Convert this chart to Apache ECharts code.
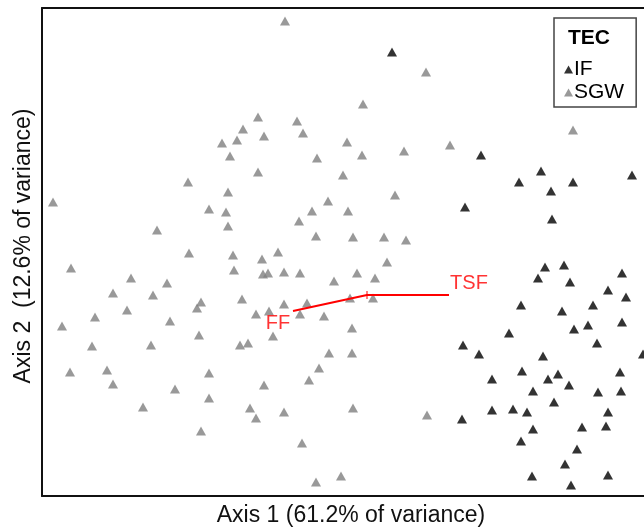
<!DOCTYPE html>
<html>
<head>
<meta charset="utf-8">
<script src="https://cdn.jsdelivr.net/npm/echarts@6/dist/echarts.min.js"></script>
<style>
html,body{margin:0;padding:0;background:#fff;}
#chart{width:644px;height:529px;}
</style>
</head>
<body>
<div id="chart"></div>
<script>
// Ordination scores (arbitrary axis units)
var sgwPoints = [
  [243,475],[216,379],[255,375],[261,363],[201,367],[222,360],[195,356],[180,353],
  [188,340],[275,338],[216,324],[146,314],[186,304],[11,294],[167,287],[184,284],
  [270,285],[286,295],[257,275],[186,270],[115,266],[274,260],[147,243],[191,241],
  [236,244],[220,237],
  [321,392],[384,424],[305,354],[320,341],[362,345],[408,351],[301,321],[353,301],
  [306,285],[311,259],[342,259],[364,256],[531,366],
  [29,228],[89,218],[125,213],[71,203],[111,201],[85,186],[53,179],[128,175],
  [20,170],[50,150],[109,151],[28,124],[65,126],[71,112],[133,107],[101,89],
  [192,226],[221,222],[226,223],[242,224],[258,223],[292,215],[200,197],[159,194],
  [155,188],[242,192],[265,193],[214,182],[227,185],[258,182],[282,180],[157,161],
  [231,160],[198,151],[206,153],[287,143],[277,128],[167,123],[267,116],[222,111],
  [167,98],[208,88],[214,78],[242,84],[159,65],[260,53],[274,14],[299,20],
  [345,234],[315,223],[333,218],[308,198],[331,198],[310,168],[310,143],[311,88],[385,81]
];
var ifPoints = [
  [350,444],[439,341],[423,289],[477,314],[499,325],[509,305],[531,314],[590,321],
  [510,277],[421,151],[437,142],[450,117],[450,86],[420,77],
  [503,229],[522,231],[496,218],[528,214],[580,223],[566,206],[584,199],[479,191],
  [520,185],[551,191],[546,171],[532,167],[580,174],[467,163],[555,153],[601,142],
  [501,140],[480,125],[506,117],[516,122],[578,124],[527,111],[491,105],[556,104],
  [579,105],[512,94],[471,87],[485,84],[566,84],[491,67],[540,69],[564,70],
  [479,55],[535,47],[523,32],[490,20],[566,21],[529,11]
];
var vectorOrigin = [325,201];
var vectorNames = ['FF','TSF'];
var vectorEnds = [[251,185],[407,201]];
var vectorLabelPos = [[236,173],[427,213]];
var originTick = [[325,205],[325,197]];
var groupNames = ['IF','SGW'];
var legendTitle = 'TEC';
var xTitle = 'Axis 1 (61.2% of variance)';
var yTitle = 'Axis 2  (12.6% of variance)';
var xRange = [0,602];   // visible part of the plotted range (right side is cropped)
var yRange = [0,488];

var FONT = "'Liberation Sans', Arial, sans-serif";
var chart = echarts.init(document.getElementById('chart'), null, {renderer:'canvas'});

var labelData = vectorNames.map(function(n,i){ return {name:n, value:vectorLabelPos[i]}; });
var frameLine = {show:true, onZero:false, lineStyle:{color:'#111', width:2}};

var option = {
  animation:false,
  backgroundColor:'#fff',
  textStyle:{fontFamily:FONT},
  title:{
    text:legendTitle, left:568, top:28, padding:0,
    textStyle:{fontFamily:FONT, fontSize:21, fontWeight:'bold', color:'#000'}
  },
  legend:{
    data:groupNames, orient:'vertical', left:554, top:18,
    padding:[41,12,4,10], itemGap:2, itemWidth:9, itemHeight:8,
    borderColor:'#444', borderWidth:1.5,
    textStyle:{fontFamily:FONT, fontSize:21, color:'#000', padding:[0,0,0,-4]},
    icon:'triangle'
  },
  grid:{left:42, right:0, top:8, bottom:33, show:false, containLabel:false, outerBoundsMode:'none'},
  xAxis:[{
    type:'value', min:xRange[0], max:xRange[1], position:'bottom',
    axisLine:frameLine, axisTick:{show:false}, axisLabel:{show:false}, splitLine:{show:false},
    name:xTitle, nameLocation:'middle', nameGap:8,
    nameTextStyle:{fontFamily:FONT, fontSize:23, color:'#111', verticalAlign:'top', padding:[0,0,0,16]}
  },{
    type:'value', min:xRange[0], max:xRange[1], position:'top',
    axisLine:frameLine, axisTick:{show:false}, axisLabel:{show:false}, splitLine:{show:false}
  }],
  yAxis:{
    type:'value', min:yRange[0], max:yRange[1],
    axisLine:frameLine, axisTick:{show:false}, axisLabel:{show:false}, splitLine:{show:false},
    name:yTitle, nameLocation:'middle', nameGap:7,
    nameTextStyle:{fontFamily:FONT, fontSize:23, color:'#111', padding:[0,0,0,12]}
  },
  series:[
    {name:'SGW', type:'scatter', symbol:'triangle', symbolSize:[10,9], data:sgwPoints,
      itemStyle:{color:'#7f7f7f'}, silent:true},
    {name:'IF', type:'scatter', symbol:'triangle', symbolSize:[10,9], data:ifPoints,
      itemStyle:{color:'#000'}, silent:true},
    {name:'vectors', type:'line', data:[vectorEnds[0], vectorOrigin, vectorEnds[1]],
      showSymbol:false, symbol:'none', lineStyle:{color:'#ff0000', width:2}, silent:true, z:5},
    {name:'tick', type:'line', data:originTick, showSymbol:false, symbol:'none',
      lineStyle:{color:'#ff0000', width:1}, silent:true, z:5},
    {name:'vlabels', type:'scatter', data:labelData, symbolSize:1, itemStyle:{color:'rgba(0,0,0,0)'},
      label:{show:true, position:'inside', formatter:'{b}', fontFamily:FONT, fontSize:20, color:'#ff0000'},
      silent:true, z:6}
  ]
};
chart.setOption(option);
</script>
</body>
</html>
